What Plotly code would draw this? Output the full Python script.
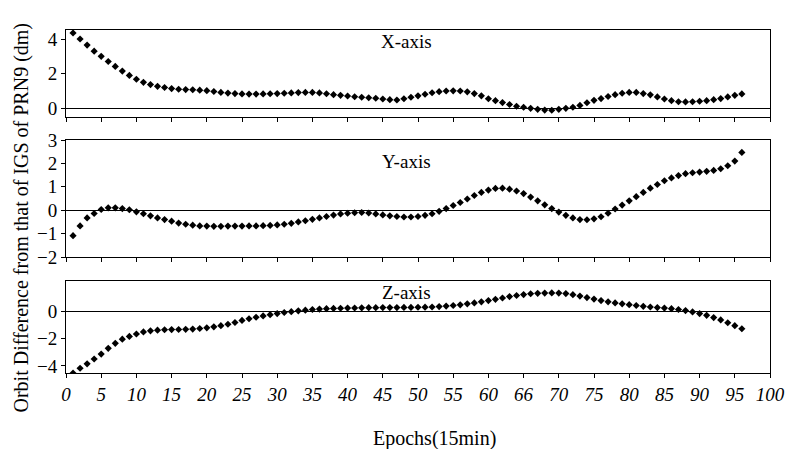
import plotly.graph_objects as go

epochs = list(range(1, 97))

x_diff = [4.35, 4.0, 3.65, 3.3, 3.0, 2.7, 2.42, 2.15, 1.9, 1.68, 1.5, 1.37, 1.27, 1.2, 1.14, 1.1,
          1.08, 1.07, 1.05, 1.02, 0.97, 0.92, 0.88, 0.85, 0.83, 0.82, 0.82, 0.83, 0.84, 0.85, 0.87,
          0.89, 0.91, 0.92, 0.92, 0.89, 0.84, 0.79, 0.75, 0.71, 0.67, 0.64, 0.61, 0.58, 0.54, 0.5,
          0.48, 0.55, 0.64, 0.72, 0.81, 0.9, 0.96, 1.0, 1.01, 1.0, 0.95, 0.85, 0.72, 0.55, 0.44,
          0.33, 0.22, 0.12, 0.06, 0.0, -0.06, -0.1, -0.11, -0.06, 0.0, 0.06, 0.17, 0.32, 0.46,
          0.56, 0.68, 0.79, 0.87, 0.92, 0.92, 0.85, 0.78, 0.66, 0.54, 0.44, 0.38, 0.37, 0.38,
          0.41, 0.44, 0.5, 0.56, 0.66, 0.75, 0.83]

y_diff = [-1.09, -0.67, -0.33, -0.14, 0.03, 0.1, 0.1, 0.07, 0.02, -0.07, -0.15, -0.24, -0.33,
          -0.4, -0.47, -0.55, -0.6, -0.64, -0.67, -0.68, -0.69, -0.69, -0.68, -0.68, -0.68,
          -0.67, -0.67, -0.66, -0.65, -0.63, -0.6, -0.56, -0.5, -0.45, -0.39, -0.33, -0.27,
          -0.21, -0.16, -0.13, -0.11, -0.1, -0.12, -0.16, -0.2, -0.24, -0.27, -0.29, -0.29,
          -0.27, -0.22, -0.15, -0.05, 0.07, 0.2, 0.33, 0.48, 0.63, 0.76, 0.86, 0.93, 0.94, 0.9,
          0.82, 0.71, 0.56, 0.4, 0.23, 0.07, -0.08, -0.22, -0.33, -0.4, -0.41, -0.37, -0.28,
          -0.13, 0.05, 0.22, 0.4, 0.58, 0.76, 0.94, 1.1, 1.26, 1.38, 1.48, 1.56, 1.6, 1.63, 1.66,
          1.7, 1.77, 1.9, 2.1, 2.47]

z_diff = [-4.53, -4.17, -3.85, -3.5, -3.14, -2.72, -2.35, -2.05, -1.85, -1.67, -1.52, -1.44,
          -1.39, -1.36, -1.35, -1.34, -1.33, -1.31, -1.27, -1.22, -1.15, -1.06, -0.96, -0.83,
          -0.68, -0.56, -0.45, -0.35, -0.26, -0.18, -0.1, -0.04, 0.02, 0.07, 0.12, 0.15, 0.18,
          0.2, 0.21, 0.22, 0.23, 0.24, 0.25, 0.25, 0.26, 0.26, 0.26, 0.27, 0.27, 0.28, 0.29, 0.3,
          0.33, 0.37, 0.41, 0.46, 0.53, 0.6, 0.68, 0.77, 0.86, 0.96, 1.06, 1.14, 1.21, 1.27, 1.3,
          1.32, 1.33, 1.32, 1.28, 1.2, 1.1, 0.99, 0.88, 0.77, 0.68, 0.6, 0.53, 0.47, 0.41, 0.35,
          0.3, 0.26, 0.22, 0.18, 0.12, 0.04, -0.06, -0.18, -0.31, -0.47, -0.64, -0.85, -1.06,
          -1.29]

x_tickvals = list(range(0, 101, 5))
x_ticktext = ["0", "5", "10", "15", "20", "25", "30", "35", "40", "45", "50", "55", "60",
              "66", "70", "75", "80", "85", "90", "95", "100"]

panel_names = ["X-axis", "Y-axis", "Z-axis"]
series = [x_diff, y_diff, z_diff]
y_ranges = [[-0.5, 4.52], [-2, 3], [-4.52, 2.2]]
y_ticks = [[0, 2, 4], [-2, -1, 0, 1, 2, 3], [-4, -2, 0]]
label_y = [3.83, 2.1, 1.38]
domains = [[0.7464, 1.0], [0.3382, 0.6793], [0.0, 0.2682]]

FONT = "Liberation Serif"

fig = go.Figure()
for i, vals in enumerate(series):
    n = "" if i == 0 else str(i + 1)
    fig.add_trace(go.Scatter(
        x=epochs, y=vals, mode="markers",
        marker=dict(symbol="diamond", size=5.5, color="black"),
        xaxis="x" + n, yaxis="y" + n, showlegend=False,
    ))
    fig.layout["xaxis" + n] = dict(
        range=[0, 100], domain=[0, 1], anchor="y" + n,
        tickvals=x_tickvals, ticktext=["<i>" + t + "</i>" for t in x_ticktext],
        showticklabels=(i == 2),
        ticks="outside", ticklen=4, tickcolor="black",
        showline=True, linecolor="black", linewidth=1, mirror=True,
        showgrid=False, zeroline=False,
        tickfont=dict(family=FONT, size=19, color="black"),
    )
    fig.layout["yaxis" + n] = dict(
        range=y_ranges[i], domain=domains[i], anchor="x" + n,
        tickvals=y_ticks[i],
        ticks="outside", ticklen=4, tickcolor="black",
        showline=True, linecolor="black", linewidth=1, mirror=True,
        showgrid=False, zeroline=True, zerolinecolor="black", zerolinewidth=1,
        tickfont=dict(family=FONT, size=19, color="black"),
    )
    fig.add_annotation(
        x=48.3, y=label_y[i], xref="x" + n, yref="y" + n,
        xanchor="center", yanchor="middle",
        text=panel_names[i], showarrow=False,
        font=dict(family=FONT, size=19, color="black"),
    )

fig.add_annotation(
    x=439, y=438, xref="paper", yref="paper", text="Epochs(15min)", showarrow=False,
    xanchor="center", yanchor="middle",
    font=dict(family=FONT, size=20, color="black"),
)
fig.add_annotation(
    x=20, y=218, xref="paper", yref="paper",
    text="Orbit Difference from that of IGS of PRN9 (dm)", showarrow=False, textangle=-90,
    xanchor="center", yanchor="middle",
    font=dict(family=FONT, size=20, color="black"),
)

# convert pixel-placed title annotations to paper coords
L, R, T, B = 66, 19, 30, 76
W, H = 797, 449
for a in fig.layout.annotations[-2:]:
    a.x = (a.x - L) / (W - L - R)
    a.y = (H - B - a.y) / (H - T - B)

fig.update_layout(
    width=W, height=H,
    margin=dict(l=L, r=R, t=T, b=B),
    paper_bgcolor="white", plot_bgcolor="white",
    font=dict(family=FONT, color="black"),
)

fig.write_html("out.html")
